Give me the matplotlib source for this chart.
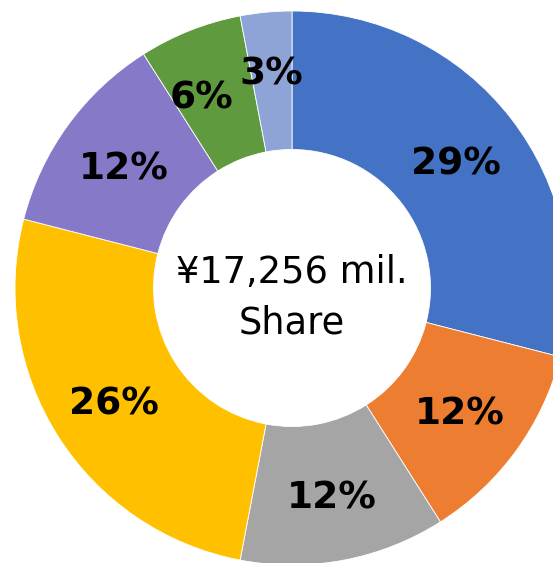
import matplotlib
matplotlib.use("Agg")
from matplotlib import pyplot as plt
import numpy as np

# доли сегментов, по часовой стрелке от верха
shares = [29, 12, 12, 26, 12, 6, 3]
colors = ['#4472C4', '#ED7D31', '#A5A5A5', '#FFC000', '#8679C8', '#5F9A3F', '#8FA4D6']
center_text = '¥17,256 mil.\nShare'

# как в Excel: маленькие подписи чуть сдвинуты, чтобы не налезали
label_r = [0.75, 0.75, 0.76, 0.76, 0.75, 0.77, 0.79]
label_turn = [0, 0, 0, 0, 0, 3.5, 0]

plt.rcParams['font.family'] = ['DejaVu Sans']

fig = plt.figure(figsize=(5.53, 5.63), dpi=100)
ax = fig.add_axes([0, 0, 1, 1])

wedges, texts = ax.pie(
    shares, colors=colors, startangle=90, counterclock=False, radius=1,
    wedgeprops=dict(width=0.5, edgecolor='white', linewidth=0.6),
)
for w, v, rr, dt in zip(wedges, shares, label_r, label_turn):
    a = np.deg2rad((w.theta1 + w.theta2) / 2 + dt)
    ax.text(rr * np.cos(a), rr * np.sin(a), f'{v}%', ha='center',
            va='center_baseline', fontsize=27, fontweight='bold', color='black')

ax.text(0, -0.035, center_text, ha='center', va='center', fontsize=26.5,
        linespacing=1.45)

# центр кольца в (292, 288) px, радиус 277 px
r = 277
ax.set_xlim(-292 / r, (553 - 292) / r)
ax.set_ylim(-(563 - 288) / r, 288 / r)
ax.set_aspect('auto')
ax.axis('off')

fig.savefig('out.png', dpi=100)
